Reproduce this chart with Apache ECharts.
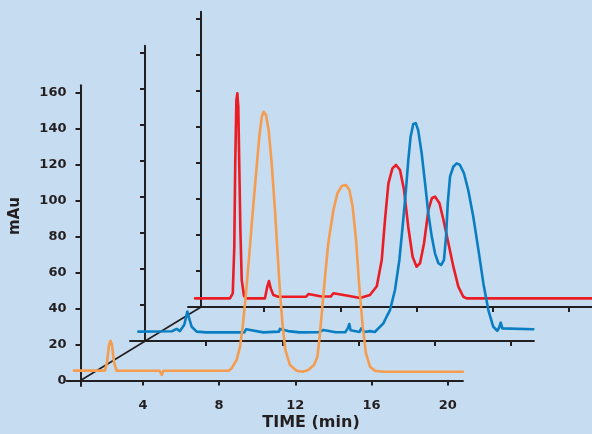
<!DOCTYPE html>
<html><head><meta charset="utf-8">
<script src="https://cdn.jsdelivr.net/npm/echarts@6/dist/echarts.min.js"></script>
<style>html,body{margin:0;padding:0;background:#c6dcf0}#c{width:592px;height:434px}</style>
</head><body><div id="c"></div>
<script>
// ---- data (time in min, absorbance in mAu) ----
const yTicks = [0, 20, 40, 60, 80, 100, 120, 140, 160];
const xTicks = [4, 8, 12, 16, 20];
const xTickLabels = ['4', '8', '12', '16', '20'];

const orangeTrace = [[0.38,5.5],[1.9,5.5],[2.01,5.6],[2.12,10.3],[2.22,19.7],[2.30,22.1],[2.38,19.7],[2.48,10.3],[2.62,5.4],
  [4.88,5.4],[4.99,3.1],[5.08,5.4],[8.5,5.4],[8.66,6.8],[8.92,11.4],[9.10,18.8],[9.24,29.9],[9.41,48.4],[9.59,70.7],
  [9.76,92.9],[9.94,115.1],[10.11,135.4],[10.24,146.6],[10.34,149.3],[10.46,147.5],[10.60,139.2],[10.76,120.7],
  [10.92,96.6],[11.06,72.5],[11.20,48.4],[11.34,29.9],[11.48,16.9],[11.72,8.6],[12.07,5.4],[12.39,4.9],[12.68,5.8],
  [12.98,8.6],[13.16,13.2],[13.26,22.5],[13.39,37.3],[13.56,57.7],[13.73,76.2],[14.00,94.7],[14.21,104],[14.44,108],
  [14.66,108.6],[14.84,105.8],[15.01,96.6],[15.19,78],[15.36,52.1],[15.54,29.9],[15.71,15.1],[15.92,7.7],[16.18,5.4],
  [16.62,4.9],[20.8,4.9]];

const blueTrace = [[0.44,5.2],[2.2,5.4],[2.45,6.7],[2.62,5.5],[2.71,4.6],[2.85,9],[3.01,16.3],[3.12,12],[3.24,7.9],
  [3.5,5.2],[4.0,4.8],[6.0,4.8],[6.09,6.5],[7.0,4.8],[7.82,5.2],[7.87,6.7],[8.3,5.5],[8.9,4.8],[9.9,4.9],[10.15,6.1],
  [10.8,4.9],[11.3,4.9],[11.43,7],[11.51,9.4],[11.58,6],[11.66,5],[12.05,5],[12.14,7],[12.21,7.4],[12.3,5],[12.6,5.5],
  [12.85,5.0],[13.30,9.8],[13.47,13.5],[13.65,17.2],[13.91,28.3],[14.14,45],[14.31,63.5],[14.47,82],[14.61,100.6],
  [14.73,113.5],[14.87,120.6],[15.00,121],[15.13,117],[15.31,104.3],[15.49,87.6],[15.66,70.9],[15.84,58],[16.01,48.7],
  [16.19,43.2],[16.33,42.2],[16.48,45],[16.59,58],[16.68,76.5],[16.80,91.3],[16.97,96.8],[17.15,98.7],[17.32,97.8],
  [17.53,93.2],[17.76,83.6],[18.02,69],[18.29,50.6],[18.55,32],[18.81,17.2],[19.07,7.9],[19.28,5.7],[19.38,7.5],
  [19.46,10.2],[19.55,7],[19.63,6.1],[21.17,6.5]];

const redTrace = [[0.37,4.8],[2.2,4.8],[2.35,7.6],[2.43,33.5],[2.48,79.8],[2.54,115],[2.59,118.7],[2.64,111.3],
  [2.69,79.8],[2.75,42.8],[2.82,15],[2.94,6.1],[3.08,4.8],[4.04,4.8],[4.16,11.3],[4.25,14.4],[4.34,10.4],[4.48,6.7],
  [4.74,5.7],[6.2,5.7],[6.32,7.2],[7.0,5.8],[7.5,5.8],[7.63,7.6],[8.4,6.2],[9.03,5.0],[9.55,6.7],[9.91,11.5],
  [10.17,26.1],[10.34,48.3],[10.52,68.7],[10.73,77],[10.92,78.9],[11.13,76.1],[11.34,65],[11.56,44.6],[11.79,27.9],
  [12.00,22.4],[12.18,24.3],[12.39,35.4],[12.62,53.9],[12.80,60.4],[12.97,61.3],[13.20,57.6],[13.41,48.3],[13.67,35.4],
  [13.93,22.4],[14.19,11.3],[14.45,5.7],[14.63,4.8],[21.21,4.8]];

// ---- layout / style ----
const Y_MAX = 164, PX_PER_MAU = 1.8, PX_PER_MIN = 19.05;
const panels = [
  {left: 66.7, base: 380.5, yOff: 13.8, xMax: 20.8, yMin: -3, z: 6},   // front
  {left: 130,  base: 341,   yOff: 15,   xMax: 21.2, yMin: 0,  z: 3},   // middle
  {left: 188,  base: 307,   yOff: 13,   xMax: 21.2, yMin: 0,  z: 1}    // back
];
const AX = '#231f20';
const FONT = 'DejaVu Sans';

const grid = panels.map(p => ({
  left: p.left, top: p.base - Y_MAX * PX_PER_MAU,
  width: p.xMax * PX_PER_MIN, height: (Y_MAX - p.yMin) * PX_PER_MAU,
  containLabel: false
}));
const xAxis = panels.map((p, i) => ({
  type: 'value', gridIndex: i, min: 0, max: p.xMax, z: p.z,
  axisLine: {onZero: true, lineStyle: {color: AX, width: 2}},
  axisTick: {show: true, length: 5, customValues: xTicks, lineStyle: {color: AX, width: 2}},
  axisLabel: {show: i === 0, customValues: xTicks, margin: 13, color: AX,
    fontFamily: FONT, fontWeight: 'bold', fontSize: 13,
    formatter: v => xTickLabels[xTicks.indexOf(v)] ?? String(v)},
  splitLine: {show: false}
}));
const yAxis = panels.map((p, i) => ({
  type: 'value', gridIndex: i, min: p.yMin, max: Y_MAX, offset: -p.yOff, z: p.z,
  axisLine: {show: true, onZero: false, lineStyle: {color: AX, width: 2}},
  axisTick: {show: true, length: 5, customValues: yTicks, lineStyle: {color: AX, width: 2}},
  axisLabel: {show: i === 0, customValues: yTicks, margin: 14, color: AX,
    fontFamily: FONT, fontWeight: 'bold', fontSize: 13},
  splitLine: {show: false}
}));

function trace(data, idx, color, z) {
  return {type: 'line', xAxisIndex: idx, yAxisIndex: idx, data, z, showSymbol: false,
    smooth: false, lineStyle: {color, width: 2.6, join: 'round', cap: 'round'},
    silent: true, animation: false, clip: false};
}

const f = panels[0], b = panels[2];
const option = {
  backgroundColor: '#c6dcf0',
  animation: false,
  grid, xAxis, yAxis,
  series: [
    trace(redTrace, 2, '#ec1c24', 2),
    trace(blueTrace, 1, '#0a7ec2', 5),
    trace(orangeTrace, 0, '#f59c4e', 7)
  ],
  graphic: [
    {type: 'line', z: 4, silent: true,
     shape: {x1: f.left + f.yOff, y1: f.base, x2: b.left + b.yOff, y2: b.base},
     style: {stroke: AX, lineWidth: 1.6}},
    {type: 'text', x: 15, y: 216, rotation: Math.PI / 2, silent: true,
     style: {text: 'mAu', fill: AX, font: 'bold 15px "DejaVu Sans"', align: 'center', verticalAlign: 'middle'}},
    {type: 'text', x: 311, y: 423, silent: true,
     style: {text: 'TIME (min)', fill: AX, font: 'bold 16px "DejaVu Sans"', align: 'center', verticalAlign: 'middle'}}
  ]
};
const chart = echarts.init(document.getElementById('c'), null, {renderer: 'canvas'});
chart.setOption(option);
</script>
</body></html>
